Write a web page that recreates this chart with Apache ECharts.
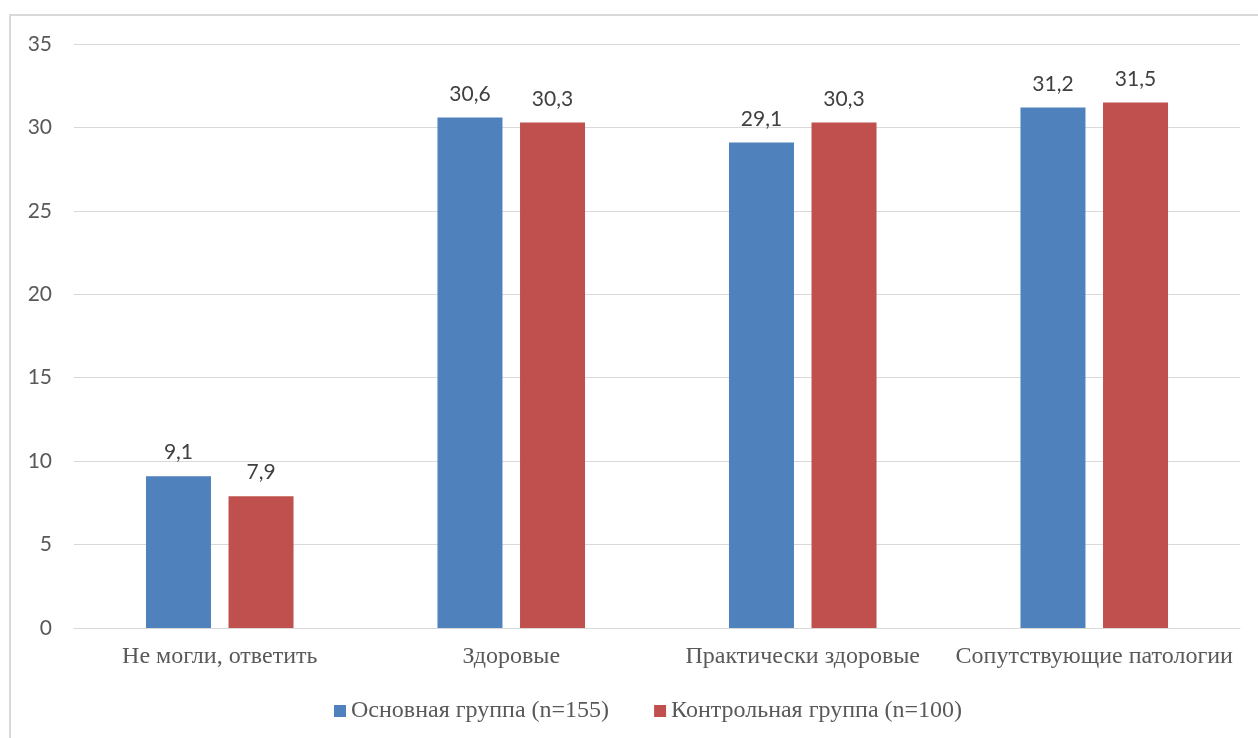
<!DOCTYPE html>
<html>
<head>
<meta charset="utf-8">
<script src="https://cdn.jsdelivr.net/npm/echarts@6/dist/echarts.min.js"></script>
<style>
  html, body { margin: 0; padding: 0; background: #fff; }
  #chart { width: 1258px; height: 738px; }
</style>
</head>
<body>
<div id="chart"></div>
<script>
// Categories and values
const categories = ['Не могли, ответить', 'Здоровые', 'Практически здоровые', 'Сопутствующие патологии'];
const mainGroupName = 'Основная группа (n=155)';
const controlGroupName = 'Контрольная группа (n=100)';
const mainGroup = [9.1, 30.6, 29.1, 31.2];
const controlGroup = [7.9, 30.3, 30.3, 31.5];
const yTicks = { min: 0, max: 35, interval: 5 };

const numFont = 'Lato, "Open Sans", sans-serif';
const serifFont = '"Liberation Serif", "DejaVu Serif", serif';

const chart = echarts.init(document.getElementById('chart'));

const labelCfg = {
  show: true,
  position: 'top',
  distance: 13,
  fontFamily: numFont,
  fontSize: 21,
  color: '#404040',
  formatter: p => String(p.value).replace('.', ',')
};

chart.setOption({
  animation: false,
  backgroundColor: '#fff',
  graphic: [{
    type: 'rect',
    shape: { x: 10, y: 15, width: 1300, height: 800 },
    style: { fill: 'none', stroke: '#d9d9d9', lineWidth: 2 },
    silent: true
  }],
  grid: { left: 74, right: 18, top: 44, bottom: 110 },
  legend: {
    left: 329,
    top: 694,
    icon: 'rect',
    itemWidth: 12,
    itemHeight: 12,
    itemGap: 45,
    textStyle: { fontFamily: serifFont, fontSize: 24, color: '#595959' },
    data: [mainGroupName, controlGroupName]
  },
  xAxis: {
    type: 'category',
    data: categories,
    axisLine: { show: true, lineStyle: { color: '#d9d9d9', width: 1 } },
    axisTick: { show: false },
    axisLabel: { margin: 17, fontFamily: serifFont, fontSize: 24, color: '#595959', interval: 0 }
  },
  yAxis: {
    type: 'value',
    min: yTicks.min,
    max: yTicks.max,
    interval: yTicks.interval,
    axisLine: { show: false },
    axisTick: { show: false },
    splitLine: { lineStyle: { color: '#d9d9d9', width: 1 } },
    axisLabel: { margin: 22, fontFamily: numFont, fontSize: 21, color: '#595959' }
  },
  series: [
    {
      name: mainGroupName,
      type: 'bar',
      data: mainGroup,
      barWidth: 65,
      barGap: '27%',
      itemStyle: { color: '#4F81BD' },
      label: labelCfg
    },
    {
      name: controlGroupName,
      type: 'bar',
      data: controlGroup,
      barWidth: 65,
      itemStyle: { color: '#C0504D' },
      label: labelCfg
    }
  ]
});
</script>
</body>
</html>
